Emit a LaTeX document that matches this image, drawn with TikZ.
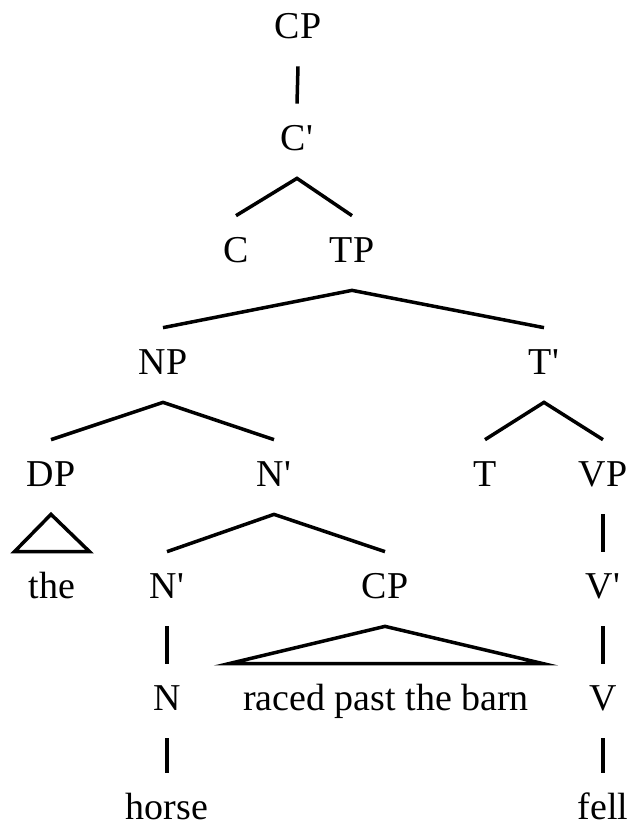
\documentclass[tikz,border=0pt]{standalone}
\usepackage{fontspec}
\setmainfont{Liberation Serif}
\newcommand{\barmark}{\textquotesingle}

\begin{document}
\begin{tikzpicture}[x=0.2mm, y=-0.2mm,
    every node/.style={font=\fontsize{21.6}{26}\selectfont, inner sep=0pt,
        text height=9.2mm, text depth=5.6mm, anchor=base},
    branch/.style={line width=0.7mm}]
    \useasboundingbox (0,0) rectangle (632,826);

    % Knoten, Zeile für Zeile (Grundlinien)
    \node (cp)    at (298,38)  {CP};
    \node (cbar)  at (297,150) {C\barmark};
    \node (c)     at (236,262) {C};
    \node (tp)    at (352,262) {TP};
    \node (np)    at (163,374) {NP};
    \node (tbar)  at (544,374) {T\barmark};
    \node (dp)    at (51,486)  {DP};
    \node (nbar)  at (274,486) {N\barmark};
    \node (t)     at (485,486) {T};
    \node (vp)    at (603,486) {VP};
    \node (the)   at (52,598)  {the};
    \node (nbarb) at (167,598) {N\barmark};
    \node (cpb)   at (385,598) {CP};
    \node (vbar)  at (603,598) {V\barmark};
    \node (n)     at (167,710) {N};
    \node (rel)   at (386,710) {raced past the barn};
    \node (v)     at (603,710) {V};
    \node[text depth=0pt] (horse) at (167,819) {horse};
    \node[text depth=0pt] (fell)  at (603,819) {fell};

    % Äste
    \draw[branch] (cp.south) -- (cbar.north);
    \draw[branch] (c.north) -- (cbar.south) -- (tp.north);
    \draw[branch] (np.north) -- (tp.south) -- (tbar.north);
    \draw[branch] (dp.north) -- (np.south) -- (nbar.north);
    \draw[branch] (t.north) -- (tbar.south) -- (vp.north);
    \draw[branch] (nbarb.north) -- (nbar.south) -- (cpb.north);
    \draw[branch] (vp.south) -- (vbar.north);
    \draw[branch] (vbar.south) -- (v.north);
    \draw[branch] (nbarb.south) -- (n.north);
    \draw[branch] (n.south) -- (horse.north);
    \draw[branch] (v.south) -- (fell.north);

    % Dreiecke
    \draw[branch] (dp.south) -- ([xshift=-2.8mm]the.north west)
        -- ([xshift=2.8mm]the.north east) -- cycle;
    \draw[branch] (cpb.south) -- ([xshift=-2.8mm]rel.north west)
        -- ([xshift=2.8mm]rel.north east) -- cycle;
\end{tikzpicture}
\end{document}
